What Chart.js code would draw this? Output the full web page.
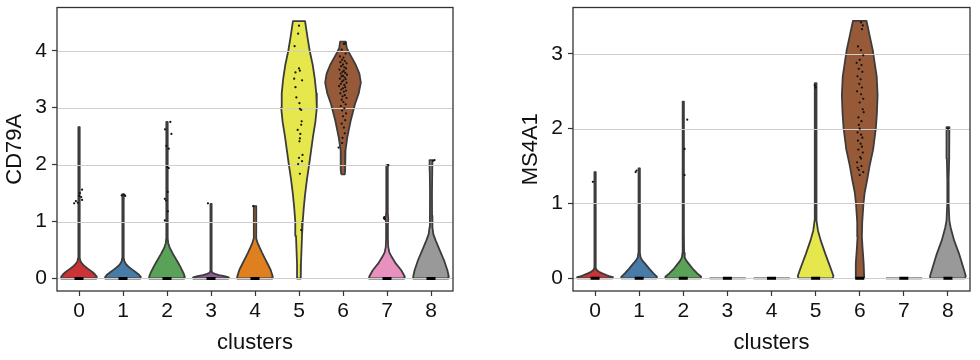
<!DOCTYPE html>
<html>
<head>
<meta charset="utf-8">
<script src="https://cdn.jsdelivr.net/npm/chart.js@4.4.0/dist/chart.umd.min.js"></script>
<style>
    body { margin: 0; background: #fff; }
    #wrap { position: relative; width: 980px; height: 360px; }
    .panel { position: absolute; top: 0; width: 490px; height: 360px; }
</style>
</head>
<body>
<div id="wrap">
    <div class="panel" style="left:0"><canvas id="chartCD79A" width="490" height="360"></canvas></div>
    <div class="panel" style="left:490px"><canvas id="chartMS4A1" width="490" height="360"></canvas></div>
</div>
<script>
// ==========================================
// DATA
// ==========================================
const clusters = [0, 1, 2, 3, 4, 5, 6, 7, 8];
const clusterColors = ['#cb3335', '#477ca8', '#59a257', '#905998', '#df7f20', '#e6e64d', '#965a38', '#e890be', '#999999'];

// violin profiles: [expression, relative density] from bottom to top
const cd79aProfiles = [
    [[0,0.97],[0.03,1],[0.07,0.9],[0.115,0.75],[0.16,0.55],[0.2,0.37],[0.25,0.2],[0.3,0.09],[0.36,0.05],[0.5,0.035],[1.3,0.035],[1.5,0.04],[2.66,0.03]],
    [[0,0.97],[0.03,1],[0.07,0.88],[0.115,0.7],[0.16,0.5],[0.2,0.33],[0.25,0.17],[0.3,0.08],[0.36,0.045],[0.5,0.035],[1.48,0.035]],
    [[0,0.97],[0.03,1],[0.1,0.92],[0.2,0.76],[0.29,0.6],[0.37,0.45],[0.44,0.32],[0.5,0.22],[0.56,0.13],[0.62,0.07],[0.7,0.045],[1,0.035],[1.5,0.04],[2.0,0.035],[2.4,0.04],[2.75,0.04]],
    [[0,0.97],[0.02,1],[0.04,0.75],[0.06,0.45],[0.08,0.22],[0.1,0.08],[0.13,0.035],[1.31,0.03]],
    [[0,0.97],[0.03,1],[0.15,0.88],[0.25,0.72],[0.35,0.56],[0.45,0.4],[0.55,0.25],[0.63,0.14],[0.7,0.08],[0.8,0.06],[1.0,0.065],[1.1,0.07],[1.27,0.07]],
    [[0,0.1],[0.25,0.11],[0.5,0.14],[0.75,0.17],[1.0,0.21],[1.25,0.27],[1.5,0.35],[1.75,0.45],[2.0,0.57],[2.25,0.68],[2.5,0.79],[2.75,0.92],[3.0,1.0],[3.25,0.97],[3.5,0.89],[3.75,0.77],[4.0,0.6],[4.25,0.47],[4.52,0.34]],
    [[1.83,0.1],[1.9,0.12],[2.1,0.12],[2.25,0.14],[2.48,0.24],[2.77,0.43],[3.06,0.67],[3.25,0.88],[3.44,1.0],[3.6,0.92],[3.75,0.72],[3.87,0.51],[3.97,0.33],[4.05,0.21],[4.16,0.16]],
    [[0,0.97],[0.03,1],[0.145,0.8],[0.26,0.5],[0.38,0.26],[0.46,0.13],[0.55,0.07],[0.7,0.05],[0.95,0.05],[1.05,0.07],[1.15,0.05],[1.5,0.04],[1.99,0.04]],
    [[0,0.97],[0.03,1],[0.145,0.92],[0.32,0.73],[0.49,0.5],[0.67,0.26],[0.78,0.13],[0.9,0.08],[1.1,0.06],[1.5,0.055],[1.9,0.07],[2.08,0.08]]
];

const ms4a1Profiles = [
    [[0,0.97],[0.015,1],[0.03,0.78],[0.045,0.6],[0.065,0.4],[0.087,0.22],[0.11,0.09],[0.14,0.04],[0.5,0.035],[1.42,0.035]],
    [[0,0.97],[0.02,1],[0.066,0.8],[0.13,0.56],[0.2,0.32],[0.24,0.17],[0.28,0.08],[0.34,0.045],[0.6,0.035],[1.47,0.035]],
    [[0,0.97],[0.02,1],[0.066,0.78],[0.13,0.52],[0.2,0.29],[0.24,0.16],[0.28,0.08],[0.34,0.045],[0.6,0.035],[2.36,0.035]],
    [[0,1]],
    [[0,1]],
    [[0,0.95],[0.03,1],[0.15,0.82],[0.33,0.54],[0.51,0.28],[0.64,0.13],[0.77,0.06],[1.0,0.045],[2.0,0.045],[2.61,0.05]],
    [[0,0.25],[0.2,0.22],[0.4,0.16],[0.56,0.12],[0.75,0.14],[1.0,0.21],[1.15,0.28],[1.32,0.42],[1.5,0.55],[1.72,0.75],[2.0,0.9],[2.2,0.96],[2.45,1.0],[2.7,0.95],[3.05,0.73],[3.25,0.55],[3.44,0.38]],
    [[0,1]],
    [[0,0.95],[0.03,1],[0.15,0.85],[0.33,0.62],[0.51,0.34],[0.68,0.15],[0.77,0.08],[1.0,0.04],[1.3,0.035],[1.6,0.06],[1.9,0.08],[2.02,0.08]]
];

// single cells drawn on top: [jitter, expression]
const cd79aCells = [
    [[-0.11,1.32],[0.07,1.56],[0.02,1.5],[0.07,1.38],[-0.03,1.33],[0.05,1.43],[0.0,1.45],[-0.07,1.36]],
    [[-0.03,1.46],[0.03,1.47],[0.05,1.45]],
    [[-0.045,2.62],[0.076,2.75],[0.1,2.54],[-0.015,2.33],[0.04,2.28],[0.0,1.96],[0.04,1.94],[0.015,1.52],[-0.05,1.4],[-0.02,1.37],[-0.05,1.02],[0.02,1.18]],
    [[-0.07,1.32]],
    [[-0.04,1.27]],
    [[0.0,4.44],[-0.02,4.3],[-0.1,4.08],[0.0,3.69],[0.02,3.65],[-0.08,3.62],[-0.11,3.51],[0.07,3.48],[-0.08,3.36],[-0.06,3.18],[0.01,3.08],[0.02,2.98],[0.05,2.96],[0.06,2.76],[0.05,2.7],[-0.03,2.61],[0.03,2.54],[0.02,2.46],[0.01,2.41],[0.08,2.17],[0.0,2.12],[0.07,2.06],[-0.02,2.01],[0.02,1.84],[0.05,0.85]],
    [[0.02,4.12],[0.05,4.13],[-0.03,4.02],[0.06,3.95],[-0.07,3.9],[0.01,3.88],[-0.02,3.84],[0.04,3.82],[-0.06,3.8],[0.08,3.78],[0.0,3.76],[-0.04,3.73],[0.03,3.71],[0.07,3.69],[-0.08,3.67],[0.02,3.65],[-0.01,3.63],[0.05,3.61],[-0.05,3.6],[0.09,3.58],[0.0,3.56],[-0.03,3.55],[0.04,3.53],[-0.07,3.51],[0.06,3.5],[0.01,3.48],[-0.02,3.46],[0.08,3.44],[-0.05,3.42],[0.03,3.4],[-0.09,3.38],[0.05,3.36],[0.0,3.34],[-0.04,3.32],[0.07,3.3],[0.02,3.28],[-0.06,3.25],[0.04,3.22],[-0.01,3.2],[0.08,3.17],[-0.03,3.14],[0.01,3.1],[0.06,3.06],[-0.05,3.03],[0.03,2.99],[-0.02,2.95],[0.07,2.9],[0.0,2.85],[0.05,2.78],[-0.03,2.72],[0.02,2.65],[0.04,2.55],[-0.01,2.47],[-0.02,2.38],[-0.1,2.3]],
    [[-0.07,1.06],[-0.05,1.04],[-0.06,1.08],[0.03,1.99]],
    [[0.08,2.08],[0.05,2.07]]
];

const ms4a1Cells = [
    [[-0.05,1.29]],
    [[-0.08,1.42],[-0.06,1.44]],
    [[0.09,2.12],[0.03,1.73],[0.03,1.38]],
    [],
    [],
    [[-0.02,2.58],[0.0,2.55]],
    [[0.03,3.42],[0.07,3.38],[0.05,3.33],[-0.04,3.1],[0.03,3.05],[0.08,2.98],[0.0,2.92],[-0.07,2.88],[0.04,2.85],[-0.02,2.8],[0.06,2.76],[-0.05,2.7],[0.02,2.66],[-0.01,2.6],[0.05,2.55],[-0.06,2.5],[0.03,2.46],[0.08,2.4],[0.0,2.35],[0.07,2.26],[0.09,2.22],[-0.03,2.15],[0.04,2.1],[-0.02,2.05],[0.0,2.0],[-0.05,1.95],[0.03,1.92],[0.06,1.88],[-0.04,1.84],[0.02,1.8],[0.05,1.76],[-0.03,1.72],[0.07,1.68],[0.01,1.62],[-0.06,1.55],[0.04,1.5],[-0.02,1.45],[0.08,1.42],[0.0,1.38],[-0.05,1.48],[0.03,1.6]],
    [],
    [[0.0,2.0]]
];

// clusters with a pile of zero-valued cells
const cd79aZeroPile = [1, 1, 1, 1, 1, 0, 0, 1, 1];
const ms4a1ZeroPile = [1, 1, 1, 1, 1, 1, 1, 1, 1];

const cd79aTicks = [0, 1, 2, 3, 4];
const ms4a1Ticks = [0, 1, 2, 3];

// ==========================================
// CHART HELPERS
// ==========================================
const HALF_WIDTH = 0.405;
const FONT = '"Liberation Sans", Arial, sans-serif';

function violinOutline(center, profile) {
    const left = profile.map(([v, d]) => ({ x: center - d * HALF_WIDTH, y: v }));
    const right = profile.slice().reverse().map(([v, d]) => ({ x: center + d * HALF_WIDTH, y: v }));
    const pts = left.concat(right);
    pts.push(pts[0]);
    return pts;
}

// grid lines go over the violins (last violin drawn is index 0), frame at the end
const frameOverlay = {
    id: 'frameOverlay',
    afterDatasetDraw(chart, args, opts) {
        if (args.index !== 0) return;
        const { ctx, chartArea: a, scales } = chart;
        ctx.save();
        ctx.strokeStyle = '#cfcfcf';
        ctx.lineWidth = 1.2;
        opts.ticks.forEach(t => {
            const y = Math.round(scales.y.getPixelForValue(t)) + 0.5;
            ctx.beginPath();
            ctx.moveTo(a.left, y);
            ctx.lineTo(a.right, y);
            ctx.stroke();
        });
        ctx.restore();
    },
    afterDatasetsDraw(chart) {
        const { ctx, chartArea: a } = chart;
        ctx.save();
        ctx.strokeStyle = '#333';
        ctx.lineWidth = 1.3;
        ctx.strokeRect(a.left, a.top, a.right - a.left, a.bottom - a.top);
        ctx.restore();
    }
};

function createViolinChart(canvasId, gene, profiles, cells, zeroPile, yTicks, yMin, yMax, padLeft, padRight) {
    const datasets = [];

    clusters.forEach((c, i) => {
        datasets.push({
            data: violinOutline(c, profiles[i]),
            backgroundColor: clusterColors[i],
            borderColor: '#3c3c3c',
            borderWidth: 1.8,
            borderJoinStyle: 'round',
            fill: 'shape',
            pointRadius: 0,
            tension: 0,
            order: 3
        });
    });

    const cellPoints = [];
    clusters.forEach((c, i) => {
        cells[i].forEach(([dx, v]) => cellPoints.push({ x: c + dx, y: v }));
    });
    datasets.push({
        data: cellPoints,
        showLine: false,
        pointRadius: 1.1,
        pointBackgroundColor: '#111',
        pointBorderWidth: 0,
        order: 2
    });

    datasets.push({
        data: clusters.filter((c, i) => zeroPile[i]).map(c => ({ x: c, y: 0 })),
        showLine: false,
        pointStyle: 'line',
        pointRadius: 4.5,
        pointBorderColor: '#000',
        pointBorderWidth: 3,
        order: 1
    });

    return new Chart(document.getElementById(canvasId), {
        type: 'line',
        data: { datasets },
        plugins: [frameOverlay],
        options: {
            responsive: false,
            animation: false,
            layout: { padding: { left: padLeft, right: padRight, top: 5, bottom: 0 } },
            scales: {
                x: {
                    type: 'linear',
                    min: -0.5,
                    max: 8.5,
                    afterBuildTicks: scale => { scale.ticks = clusters.map(v => ({ value: v })); },
                    afterFit: scale => {
                        scale.height = 69;
                        scale.paddingLeft = 0;
                        scale.paddingRight = 0;
                    },
                    grid: { drawOnChartArea: false, drawTicks: true, tickLength: 5, tickColor: '#333', tickWidth: 1.2 },
                    border: { display: false },
                    ticks: { color: '#111', padding: 3, font: { family: FONT, size: 21 }, maxRotation: 0 },
                    title: { display: true, text: 'clusters', color: '#111', padding: { top: 0, bottom: 4 }, font: { family: FONT, size: 22 } }
                },
                y: {
                    type: 'linear',
                    min: yMin,
                    max: yMax,
                    afterBuildTicks: scale => { scale.ticks = yTicks.map(v => ({ value: v })); },
                    afterFit: scale => {
                        scale.width = 57;
                        scale.paddingTop = 0;
                        scale.paddingBottom = 0;
                    },
                    grid: { drawOnChartArea: false, drawTicks: true, tickLength: 5, tickColor: '#333', tickWidth: 1.2 },
                    border: { display: false },
                    ticks: { color: '#111', padding: 5, font: { family: FONT, size: 21 } },
                    title: { display: true, text: gene, color: '#111', padding: { top: 2, bottom: 0 }, font: { family: FONT, size: 22 } }
                }
            },
            plugins: {
                legend: { display: false },
                tooltip: { enabled: false },
                frameOverlay: { ticks: yTicks }
            }
        }
    });
}

createViolinChart('chartCD79A', 'CD79A', cd79aProfiles, cd79aCells, cd79aZeroPile, cd79aTicks, -0.22, 4.76, 0, 37);
createViolinChart('chartMS4A1', 'MS4A1', ms4a1Profiles, ms4a1Cells, ms4a1ZeroPile, ms4a1Ticks, -0.17, 3.62, 26, 10);
</script>
</body>
</html>
